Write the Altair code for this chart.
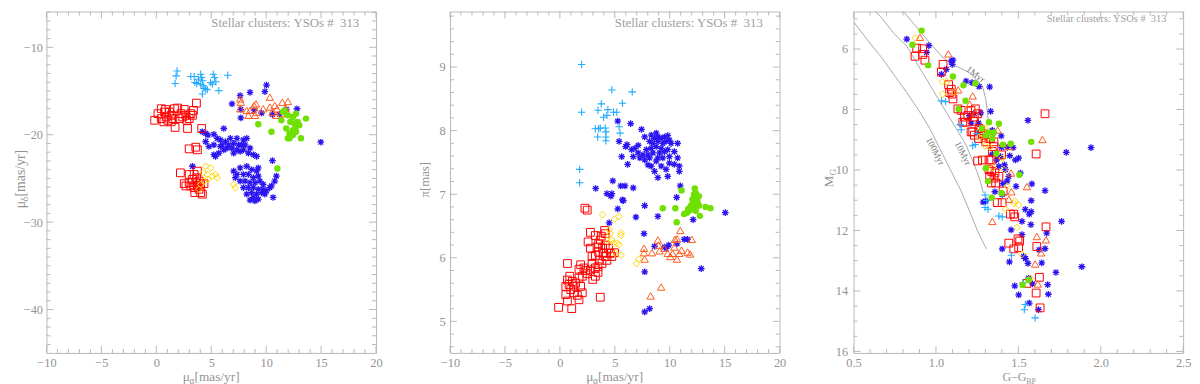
import altair as alt
import pandas as pd

# ---------------- Panel 1: proper motions (pmra, pmdec) ----------------
p1_cyan = [(1.89,-12.71),(1.80,-13.27),(1.71,-14.14),(3.14,-13.35),(3.44,-13.35),(3.50,-14.02),(3.68,-14.14),
           (4.04,-13.08),(4.13,-13.46),(4.22,-13.83),(4.25,-14.40),(4.34,-14.70),(4.49,-14.77),(4.19,-15.34),
           (5.18,-13.08),(5.30,-13.46),(4.94,-14.02),(5.42,-13.95),(5.69,-14.96),(6.50,-13.20),(3.83,-13.65),
           (4.04,-14.21),(5.09,-14.21),(4.64,-14.85)]
p1_red = [(-0.15,-18.35),(0.45,-17.03),(0.75,-17.41),(0.90,-17.97),(1.05,-18.35),(0.45,-18.16),(0.69,-18.53),
          (1.35,-17.78),(1.65,-17.03),(1.95,-16.95),(2.25,-17.59),(2.10,-18.16),(2.54,-17.11),(2.69,-17.78),
          (2.78,-18.35),(2.84,-19.29),(3.29,-17.78),(3.38,-17.22),(3.65,-16.39),(1.71,-19.17),(1.20,-17.41),
          (1.50,-18.16),(0.15,-17.59),(0.84,-17.11),(1.35,-18.53),(2.40,-17.97),(2.99,-18.16),(3.14,-17.59),
          (4.13,-19.29),(2.99,-21.62),(3.59,-21.43),(3.74,-21.73),
          (2.19,-24.36),(2.54,-25.60),(2.69,-25.86),(2.99,-25.49),(3.29,-25.11),(3.44,-24.55),(3.59,-25.49),
          (3.74,-25.86),(3.89,-26.24),(4.04,-26.62),(4.19,-26.80),(3.44,-26.05),(3.14,-25.86),(3.68,-24.92),
          (3.89,-25.30),(4.04,-25.60),(3.74,-24.17),(2.99,-24.55),(4.34,-25.60),(3.50,-26.62)]
p1_yellow = [(4.49,-23.61),(4.94,-23.80),(4.64,-24.55),(5.09,-24.74),(5.39,-24.55),(5.54,-24.92),(4.34,-25.30),
             (4.04,-25.68),(4.70,-25.11),(7.04,-25.68),(7.19,-26.05),(4.28,-24.36),(3.89,-26.24)]
p1_orange = [(7.63,-15.90),(7.69,-16.28),(7.63,-17.03),(8.38,-17.78),(8.53,-17.22),(8.89,-16.65),(9.07,-16.47),
             (9.13,-17.41),(9.73,-17.03),(10.33,-15.71),(10.33,-16.84),(10.57,-17.41),(10.78,-16.65),(10.99,-17.03),
             (11.47,-16.28),(11.98,-16.20),(11.77,-16.95),(10.93,-17.78),(11.38,-17.59),(8.23,-17.22),(8.98,-17.78)]
p1_green = [(9.28,-18.80),(10.48,-19.66),(11.53,-17.41),(11.98,-17.78),(12.43,-17.97),(12.72,-17.59),(12.19,-18.53),
            (12.57,-18.72),(12.87,-18.53),(13.62,-18.16),(11.83,-19.29),(12.13,-19.85),(12.43,-19.47),(12.66,-19.21),
            (12.13,-20.41),(11.98,-20.41),(12.43,-20.04),(13.17,-20.41),(12.72,-19.66),(13.02,-18.91),(11.02,-23.87),
            (11.68,-17.22),(11.38,-18.35)]
p1_blue = [(10.03,-14.32),(9.88,-15.08),(8.53,-15.15),(7.63,-15.53),(6.89,-16.47),(7.69,-17.11),(7.69,-18.08),
           (8.89,-17.22),(9.58,-17.52),(10.57,-17.67),(11.23,-17.67),(11.83,-17.11),(12.81,-17.03),(14.97,-20.86),
           (10.57,-22.97),(10.93,-24.74),(10.78,-25.30),(10.63,-27.18),
           (4.19,-19.66),(4.49,-19.85),(4.70,-20.04),(5.24,-19.96),(6.14,-19.29),(5.54,-20.41),(5.84,-20.60),
           (6.29,-20.79),(6.74,-20.41),(7.34,-20.41),(7.93,-20.60),(8.23,-20.41),(7.04,-20.98),(7.49,-21.17),
           (7.78,-21.17),(8.08,-21.17),(8.53,-21.54),(8.83,-22.29),(9.13,-22.48),(5.84,-21.35),(6.44,-21.54),
           (6.89,-21.54),(7.34,-21.73),(7.63,-21.92),(5.24,-21.17),(4.79,-21.35),(5.69,-22.11),(5.24,-22.29),
           (5.39,-22.48),(6.14,-21.73),(6.59,-21.17),(5.99,-21.17),(7.04,-22.11),(7.93,-21.73),(8.38,-22.11),
           (4.49,-20.79),
           (7.04,-24.17),(7.63,-23.80),(8.23,-23.61),(8.68,-23.98),(9.28,-23.80),(7.34,-24.55),(7.93,-24.55),
           (8.38,-24.55),(8.83,-24.92),(9.28,-24.74),(7.63,-25.30),(8.08,-25.30),(8.53,-25.49),(8.98,-25.49),
           (9.43,-25.30),(9.73,-25.68),(7.93,-26.05),(8.38,-26.05),(8.83,-26.05),(9.28,-26.24),(9.73,-26.24),
           (8.68,-26.62),(9.13,-26.80),(9.58,-26.62),(10.03,-26.43),(10.33,-26.05),(10.48,-25.86),(8.83,-27.18),
           (9.28,-27.37),(8.53,-27.48),(9.88,-26.80),(7.19,-24.92),(8.23,-26.80),(9.13,-24.17),(8.98,-27.56),
           (3.29,-23.61)]

# ---------------- Panel 2: pmra vs parallax ----------------
p2_cyan = [(1.98,9.04),(1.98,8.29),(4.73,8.64),(6.59,8.61),(5.69,8.43),(3.77,8.42),(3.47,8.32),(4.37,8.33),
           (4.88,8.29),(5.18,8.29),(3.98,8.21),(4.28,8.24),(3.23,8.03),(3.53,8.03),(3.68,8.04),(4.13,8.04),
           (4.19,7.98),(3.44,7.90),(4.19,7.90),(4.19,7.84),(5.39,8.06),(5.48,7.96),(1.80,7.39),(1.80,7.18)]
p2_blue = [(5.27,8.15),(6.44,8.11),(5.39,7.83),(6.11,7.78),(6.17,7.47),(5.63,7.59),(4.82,7.21),(5.54,7.13),
           (5.93,7.13),(6.68,7.10),(4.28,7.01),(4.73,7.01),(4.64,6.97),(5.69,6.91),(5.78,6.90),(5.27,6.77),
           (4.49,6.55),(6.92,6.64),(7.66,6.38),(7.72,6.82),(8.92,6.65),(10.96,7.13),(10.63,6.95),(11.32,6.29),
           (12.13,6.60),(11.62,6.29),(8.62,6.18),(9.52,6.17),(9.91,6.20),(9.67,6.15),(10.66,6.22),(12.87,5.83),
           (15.06,6.71),(7.72,5.78),(8.17,5.20),(7.72,5.15),(3.26,7.09),
           (7.43,8.02),(7.72,7.90),(8.32,7.93),(8.62,7.88),(8.92,7.90),(9.22,7.88),(9.52,7.90),(9.82,7.92),
           (9.97,7.85),(8.17,7.83),(8.47,7.80),(8.92,7.83),(9.37,7.80),(9.67,7.83),(10.12,7.80),(8.77,7.75),
           (9.22,7.72),(8.32,7.72),(7.87,7.70),(7.13,7.77),(6.83,7.72),(7.13,7.65),(7.57,7.62),(8.02,7.62),
           (8.47,7.65),(9.07,7.65),(9.52,7.67),(9.82,7.70),(10.42,7.67),(9.97,7.59),(9.37,7.57),(8.92,7.57),
           (8.77,7.52),(8.32,7.44),(9.22,7.44),(9.67,7.39),(8.92,7.26),(8.62,7.36),(9.82,7.28),(10.72,7.57),
           (10.87,7.44),(9.97,7.49),(10.42,7.47),(10.87,7.36),(8.02,7.46),(6.53,7.70),(6.68,7.59),(5.99,7.75),
           (7.28,7.57),(7.72,7.54),(8.17,7.57),(10.72,7.80),(8.77,7.96)]
p2_red = [(-0.12,5.22),(1.08,5.20),(0.69,5.32),(1.74,5.34),(2.04,5.45),(1.59,5.41),(0.54,5.42),(0.99,5.50),
          (1.29,5.45),(1.89,5.55),(0.69,5.65),(0.90,5.71),(1.14,5.63),(1.44,5.60),(0.54,5.55),(0.84,5.58),
          (1.29,5.55),(1.74,5.68),(2.04,5.71),(0.69,5.91),(1.74,5.82),(1.89,5.89),(2.19,5.84),(2.34,5.80),
          (2.49,5.75),(2.78,5.81),(3.23,5.84),(3.47,5.86),(3.59,5.96),(2.93,5.91),(2.93,6.02),(3.23,6.04),
          (3.53,6.09),(2.78,6.15),(3.38,6.17),(3.53,6.22),(3.68,6.28),(3.23,6.35),(3.77,6.34),(3.89,6.15),
          (3.98,6.07),(4.13,6.20),(4.13,6.02),(4.28,5.96),(3.83,5.91),(4.43,6.15),(4.58,6.07),(4.73,6.02),
          (4.97,6.08),(4.07,6.43),(4.13,6.38),(2.78,6.40),(2.57,6.25),(2.28,6.78),(2.49,6.75),(3.68,5.38),
          (2.99,5.66),(3.23,5.71),(3.47,5.77)]
p2_yellow = [(3.89,6.68),(4.97,6.61),(5.39,6.65),(4.49,6.44),(4.58,6.38),(4.73,6.28),(4.88,6.23),(5.18,6.23),
             (5.57,6.39),(5.57,6.35),(5.39,6.21),(5.57,6.04),(7.19,5.98),(6.98,5.91),(5.03,6.07),(4.28,6.28)]
p2_orange = [(7.66,6.15),(7.66,6.08),(7.72,5.98),(8.38,6.08),(8.92,6.28),(8.98,6.20),(9.07,6.11),(9.52,6.15),
             (10.06,6.02),(10.27,6.07),(10.42,6.17),(10.48,6.29),(10.66,6.30),(10.66,5.98),(10.96,6.43),
             (11.08,6.12),(11.62,6.09),(11.86,6.06),(12.01,6.29),(9.22,5.54),(8.26,5.40),(9.82,6.07),(10.87,6.07)]
p2_green = [(9.37,6.78),(10.51,6.78),(10.63,6.56),(11.08,7.06),(11.32,6.69),(11.56,6.71),(11.77,6.74),
            (11.92,6.77),(12.07,6.84),(12.07,6.92),(12.22,7.00),(12.28,7.09),(12.37,7.02),(12.46,6.95),
            (12.51,6.90),(12.60,6.84),(12.66,6.97),(12.22,6.79),(11.92,6.82),(12.66,6.82),(13.26,6.80),
            (13.71,6.78),(12.75,6.66),(11.68,6.77),(12.37,6.74)]

# ---------------- Panel 3: colour-magnitude diagram ----------------
p3_green = [(0.913,5.39),(0.857,5.86),(0.953,6.54),(1.103,6.91),(1.167,7.20),(1.239,7.14),(1.179,7.71),
            (1.137,7.98),(1.322,8.42),(1.382,8.47),(1.278,8.63),(1.322,8.76),(1.352,8.76),(1.302,8.85),
            (1.342,8.96),(1.406,9.16),(1.454,9.13),(1.366,9.46),(1.578,9.07),(1.506,10.16),(1.316,10.37),
            (1.338,10.92),(1.398,10.76),(1.526,13.80),(1.562,13.64),(1.302,9.94)]
p3_orange = [(0.903,5.61),(1.075,6.16),(1.135,7.35),(1.223,7.55),(1.205,7.82),(1.239,8.11),(1.374,8.68),
             (1.442,9.22),(1.646,8.99),(1.456,10.10),(1.552,10.55),(1.458,10.72),(1.442,10.97),(1.342,11.70),
             (1.612,12.20),(1.668,12.31),(1.638,12.74),(1.602,13.11),(1.618,13.77),(1.294,8.95)]
p3_yellow = [(0.875,5.64),(1.039,7.08),(1.067,7.08),(1.041,7.49),(1.113,7.44),(1.298,8.61),(1.298,9.20),
             (1.326,9.25),(1.402,9.61),(1.346,9.92),(1.412,9.99),(1.432,10.54),(1.478,11.03),(1.473,11.11),
             (1.502,11.16),(1.422,11.30),(1.492,11.90),(1.522,12.79),(1.572,13.58),(1.262,8.92)]
p3_cyan = [(1.033,7.71),(1.059,7.74),(1.147,8.50),(1.153,8.67),(1.223,9.20),(1.239,9.16),(1.298,10.83),
           (1.308,11.01),(1.298,11.24),(1.316,11.30),(1.382,11.52),(1.402,11.55),(1.458,12.82),(1.528,13.73),
           (1.542,14.45),(1.536,14.62),(1.602,14.89),(1.246,8.80)]
p3_red = [(0.883,5.97),(0.919,5.99),(0.873,6.24),(0.919,6.18),(0.933,6.37),(1.043,6.51),(1.033,6.76),
          (1.077,7.18),(1.093,7.33),(1.097,7.49),(1.103,7.65),(1.083,7.44),(1.133,7.98),(1.153,8.03),
          (1.173,8.25),(1.179,8.42),(1.163,8.42),(1.193,8.20),(1.213,8.03),(1.239,7.98),(1.233,8.25),
          (1.253,8.14),(1.227,8.39),(1.223,8.74),(1.233,8.85),(1.258,8.96),(1.272,8.69),(1.282,8.80),
          (1.302,9.07),(1.322,8.96),(1.352,9.07),(1.352,9.23),(1.342,9.39),(1.253,9.70),(1.282,9.67),
          (1.322,9.67),(1.338,9.67),(1.398,9.50),(1.322,9.99),(1.338,10.05),(1.358,10.10),(1.326,10.21),
          (1.352,10.27),(1.336,10.43),(1.382,10.21),(1.362,10.43),(1.372,11.08),(1.402,11.08),(1.408,10.70),
          (1.452,11.46),(1.472,11.46),(1.478,11.55),(1.442,12.42),(1.472,12.61),(1.502,12.57),(1.498,12.28),
          (1.508,12.35),(1.552,13.75),(1.608,14.07),(1.628,13.55),(1.612,12.53),(1.668,11.88),(1.662,8.14),
          (1.608,9.47),(1.332,8.96),(1.292,8.85),(1.262,8.63),(1.213,8.74),(1.632,14.56)]
p3_blue = [(0.823,5.67),(0.943,6.11),(0.957,5.89),(1.033,6.84),(1.063,6.67),(1.099,6.51),(1.093,6.40),
           (1.103,6.37),(1.183,7.06),(1.219,7.11),(1.262,7.24),(1.326,7.25),(1.332,8.06),(1.203,8.20),
           (1.233,8.14),(1.272,8.11),(1.213,8.45),(1.258,8.45),(1.342,8.69),(1.396,8.87),(1.398,9.25),
           (1.432,9.25),(1.468,9.26),(1.342,9.48),(1.368,9.67),(1.392,9.56),(1.382,9.88),(1.416,9.83),
           (1.422,9.99),(1.448,9.53),(1.482,9.67),(1.502,9.61),(1.512,10.10),(1.442,10.21),(1.432,10.37),
           (1.358,10.72),(1.402,10.81),(1.486,10.54),(1.582,10.46),(1.662,10.68),(1.578,11.01),(1.542,11.30),
           (1.566,11.46),(1.578,11.38),(1.522,11.70),(1.576,11.81),(1.762,11.70),(1.672,12.09),(1.662,12.60),
           (1.626,12.64),(1.456,11.98),(1.446,13.04),(1.522,12.14),(1.532,12.86),(1.544,12.93),(1.558,13.09),
           (1.562,13.58),(1.586,13.77),(1.642,13.07),(1.728,13.39),(1.678,13.79),(1.682,14.11),(1.566,14.40),
           (1.622,14.62),(1.502,14.13),(1.478,13.83),(1.885,13.20),(1.941,9.26),(1.791,9.42),(1.558,8.36),
           (1.402,12.61),(1.406,10.45),(1.302,11.03),(1.286,11.06)]

# isochrones (G-G_BP, M_G)
iso_1myr = [(0.763,4.50),(0.863,5.15),(0.963,5.80),(1.043,6.29),(1.123,6.57),(1.203,6.78),(1.282,7.22),
            (1.302,7.65),(1.312,8.09),(1.316,8.36)]
iso_10myr = [(0.584,4.50),(0.664,4.93),(0.744,5.48),(0.823,5.91),(0.883,6.46),(0.943,7.00),(1.003,7.55),
             (1.063,8.09),(1.123,8.63),(1.183,9.18),(1.233,9.83),(1.266,10.32),(1.288,10.76)]
iso_100myr = [(0.500,5.10),(0.584,5.70),(0.664,6.24),(0.744,6.84),(0.823,7.44),(0.903,8.09),(0.963,8.63),
              (1.023,9.29),(1.093,10.05),(1.153,10.70),(1.203,11.35),(1.252,12.01),(1.306,12.61)]
iso_labels = ["1Myr", "10Myr", "100Myr"]
iso_label_pos = [(1.240, 6.84), (1.163, 9.45), (0.995, 9.38)]
iso_label_angle = [38, 63, 63]

# axis ticks
pm_major = [-10, -5, 0, 5, 10, 15, 20]
pm_minor = [v for v in range(-9, 20) if v % 5 != 0]
pmdec_major = [-10, -20, -30, -40]
pmdec_minor = [v for v in range(-44, -5) if v % 10 != 0]
plx_major = [5, 6, 7, 8, 9]
plx_minor = [round(4.6 + 0.2 * i, 1) for i in range(27) if round(4.6 + 0.2 * i, 1) % 1 != 0]
col_major = [0.5, 1.0, 1.5, 2.0, 2.5]
col_minor = [round(0.6 + 0.1 * i, 1) for i in range(19) if (i + 1) % 5 != 0]
mag_major = [6, 8, 10, 12, 14, 16]
mag_minor = [v / 2 for v in range(10, 32) if v % 4 != 0]

ANNOT = "Stellar clusters: YSOs #\u00a0 313"

FONT = "Liberation Serif"
GRAY = "#939393"
ANN_GRAY = "#a0a0a0"
TICK = "#b8b8b8"
W, H = 334, 346
BLUE, RED, CYAN, YELLOW, ORANGE, GREEN = "#2a14f0", "#ff0000", "#22aaff", "#ffd500", "#ff5a1e", "#6fe000"
PLUS = "M-1,0L1,0M0,-1L0,1"
AST = "M-1,0L1,0M0,-1L0,1M-0.72,-0.72L0.72,0.72M-0.72,0.72L0.72,-0.72"

one = pd.DataFrame({"a": [0]})


def df(pairs):
    return pd.DataFrame(pairs, columns=["x", "y"])


def text(t, x, y, size, angle=0, align="left", baseline="alphabetic", color=GRAY):
    kw = dict(text=t, font=FONT, fontSize=size, color=color, align=align, baseline=baseline)
    if angle:
        kw["angle"] = angle
    return alt.Chart(one).mark_text(**kw).encode(x=alt.value(x), y=alt.value(y))


def panel(groups, xdom, ydom, yrev, xmaj, xmin, ymaj, ymin, xfmt, yfmt, ylabpad, annot_size, annot_y, extra):
    xs = alt.Scale(domain=xdom, nice=False, zero=False)
    ys = alt.Scale(domain=ydom, nice=False, zero=False, reverse=yrev)
    xax = alt.Axis(values=xmaj, format=xfmt, ticks=False, tickSize=0, domain=False, grid=False,
                   labelFont=FONT, labelFontSize=12.5, labelColor=GRAY, labelPadding=4,
                   labelFlush=False, labelOverlap=False, title=None)
    yax = alt.Axis(values=ymaj, format=yfmt, ticks=False, tickSize=0, domain=False, grid=False,
                   labelFont=FONT, labelFontSize=12.5, labelColor=GRAY, labelPadding=ylabpad,
                   labelOverlap=False, title=None)

    def X():
        return alt.X("x:Q", scale=xs, axis=xax)

    def Y():
        return alt.Y("y:Q", scale=ys, axis=yax)

    layers = []
    # ticks pointing inward on all four sides
    for vals, ln in ((xmaj, 7), (xmin, 4)):
        d = pd.DataFrame({"x": vals})
        layers.append(alt.Chart(d).mark_rule(color=TICK, strokeWidth=1).encode(
            x=X(), y=alt.value(H), y2=alt.value(H - ln)))
        layers.append(alt.Chart(d).mark_rule(color=TICK, strokeWidth=1).encode(
            x=X(), y=alt.value(0), y2=alt.value(ln)))
    for vals, ln in ((ymaj, 7), (ymin, 4)):
        d = pd.DataFrame({"y": vals})
        layers.append(alt.Chart(d).mark_rule(color=TICK, strokeWidth=1).encode(
            y=Y(), x=alt.value(0), x2=alt.value(ln)))
        layers.append(alt.Chart(d).mark_rule(color=TICK, strokeWidth=1).encode(
            y=Y(), x=alt.value(W), x2=alt.value(W - ln)))

    for e in extra:
        layers.append(e(X, Y))

    for pairs, kind in groups:
        d = df(pairs)
        if kind == "blue":
            m = alt.Chart(d).mark_point(shape=AST, color=BLUE, size=46, strokeWidth=1.3, opacity=1)
        elif kind == "red":
            m = alt.Chart(d).mark_point(shape="square", color=RED, size=62, strokeWidth=1, opacity=1)
        elif kind == "cyan":
            m = alt.Chart(d).mark_point(shape=PLUS, color=CYAN, size=56, strokeWidth=1.1, opacity=1)
        elif kind == "yellow":
            m = alt.Chart(d).mark_point(shape="diamond", color=YELLOW, size=46, strokeWidth=1, opacity=1)
        elif kind == "orange":
            m = alt.Chart(d).mark_point(shape="triangle-up", color=ORANGE, size=56, strokeWidth=1, opacity=1)
        else:
            m = alt.Chart(d).mark_point(shape="circle", color=GREEN, filled=True, size=42, opacity=1)
        layers.append(m.encode(x=X(), y=Y()))

    layers.append(text(ANNOT, 317, annot_y, annot_size, align="right", color=ANN_GRAY))
    return layers


def make_iso(pairs):
    def f(X, Y):
        d = df(pairs)
        d["i"] = range(len(d))
        return alt.Chart(d).mark_line(color="#a8a8a8", strokeWidth=1, clip=True).encode(
            x=X(), y=Y(), order="i:Q")
    return f


def make_iso_label(i):
    def f(X, Y):
        d = df([iso_label_pos[i]])
        return alt.Chart(d).mark_text(text=iso_labels[i], angle=iso_label_angle[i], font=FONT, fontSize=9.5,
                                      color="#7a7a7a", align="center", baseline="middle").encode(x=X(), y=Y())
    return f


# ---- panel 1
l1 = panel([(p1_blue, "blue"), (p1_red, "red"), (p1_cyan, "cyan"), (p1_yellow, "yellow"),
            (p1_orange, "orange"), (p1_green, "green")],
           [-10, 20], [-44.96, -5.91], False, pm_major, pm_minor, pmdec_major, pmdec_minor,
           "d", "d", 4, 13, 16, [])
l1 += [text("μ", 138, 374, 13.5), text("α", 145, 377, 9.5), text("[mas/yr]", 150, 374, 13.5),
       text("μ", -22, 199.5, 14, angle=270), text("δ", -19, 192.5, 10, angle=270),
       text("[mas/yr]", -22, 187.5, 14, angle=270)]
c1 = alt.layer(*l1).properties(width=W, height=H)

# ---- panel 2
l2 = panel([(p2_blue, "blue"), (p2_red, "red"), (p2_cyan, "cyan"), (p2_yellow, "yellow"),
            (p2_orange, "orange"), (p2_green, "green")],
           [-10, 20], [4.504, 9.873], False, pm_major, pm_minor, plx_major, plx_minor,
           "d", "d", 5, 13, 16, [])
l2 += [text("μ", 138, 374, 13.5), text("α", 145, 377, 9.5), text("[mas/yr]", 150, 374, 13.5),
       text("π[mas]", -21, 188.5, 13, angle=270)]
c2 = alt.layer(*l2).properties(width=W, height=H)

# ---- panel 3
extra3 = [make_iso(iso_1myr), make_iso(iso_10myr), make_iso(iso_100myr),
          make_iso_label(0), make_iso_label(1), make_iso_label(2)]
l3 = panel([(p3_blue, "blue"), (p3_red, "red"), (p3_cyan, "cyan"), (p3_yellow, "yellow"),
            (p3_orange, "orange"), (p3_green, "green")],
           [0.5, 2.5], [4.76, 16.05], True, col_major, col_minor, mag_major, mag_minor,
           ".1f", "d", 6, 10.5, 10.5, extra3)
l3 += [text("G−G", 151, 374, 12), text("BP", 175, 377, 8),
       text("M", -21, 178, 13, angle=270), text("G", -18, 166, 9, angle=270)]
c3 = alt.layer(*l3).properties(width=W, height=H)

chart = alt.hconcat(c1, c2, c3, spacing=75, bounds="flush").properties(
    padding={"left": 5, "top": 0, "right": 0, "bottom": 0}
).configure_view(stroke=TICK, strokeWidth=1)

chart.save("out.html", embed_options={"renderer": "svg", "actions": False})
